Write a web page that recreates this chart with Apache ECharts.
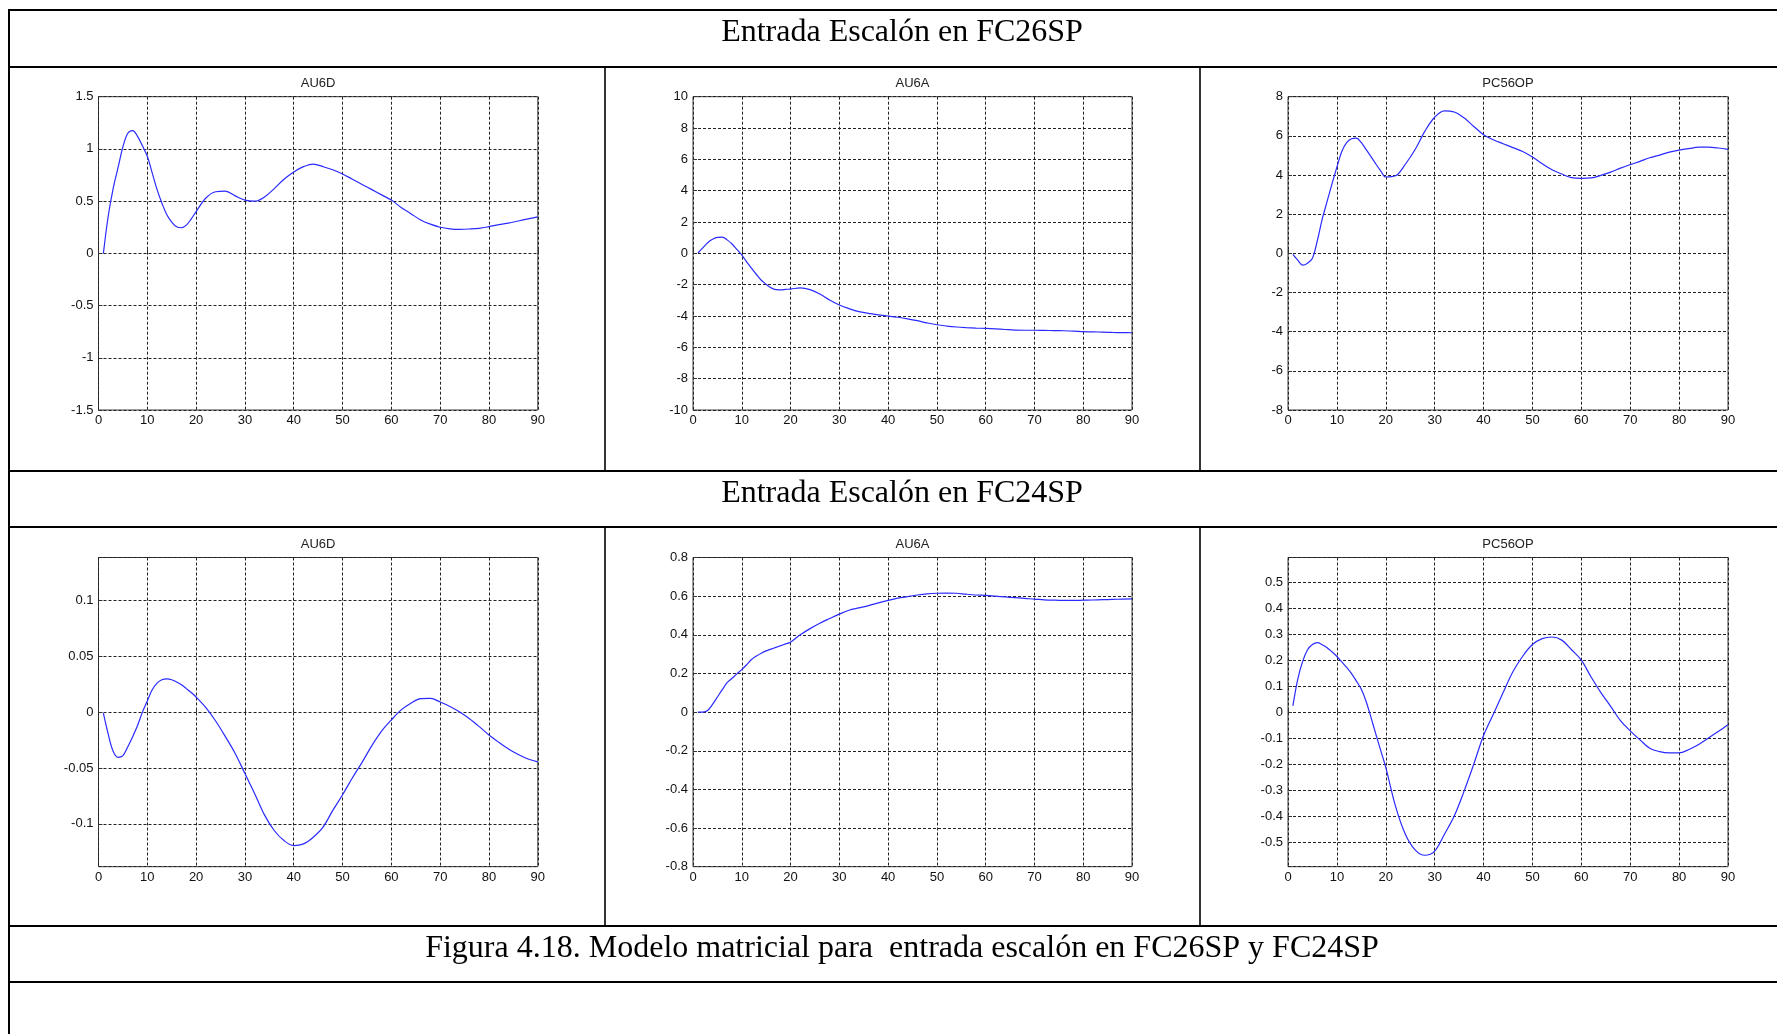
<!DOCTYPE html>
<html>
<head>
<meta charset="utf-8">
<script src="https://cdn.jsdelivr.net/npm/echarts@6/dist/echarts.min.js"></script>
<style>
html,body{margin:0;padding:0;background:#fff;}
#chart{width:1777px;height:1034px;}
</style>
</head>
<body>
<div id="chart"></div>
<script>
// ---- Data (time axis shared by all six panels) ----
const T = [1,2,3,4,5,6,7,8,9,10,11,12,13,14,15,16,17,18,19,20,
  22,24,26,28,30,32,34,36,38,40,42,44,46,48,50,52,54,56,58,60,
  62,64,66,68,70,72,74,76,78,80,82,84,86,88,90];

const xTicks = [0,10,20,30,40,50,60,70,80,90];
const rowTitles = ["Entrada Escalón en FC26SP", "Entrada Escalón en FC24SP"];
const caption = "Figura 4.18. Modelo matricial para  entrada escalón en FC26SP y FC24SP";
const panelNames = ["AU6D", "AU6A", "PC56OP"];

// Step in FC26SP
const AU6D_FC26 = [0,0.36,0.62,0.82,1.02,1.15,1.175,1.12,1.03,0.93,
  0.77,0.61,0.48,0.37,0.30,0.255,0.245,0.27,0.33,0.40,
  0.53,0.59,0.595,0.55,0.51,0.50,0.54,0.62,0.71,0.78,
  0.83,0.855,0.83,0.80,0.76,0.71,0.66,0.61,0.56,0.51,
  0.44,0.38,0.32,0.28,0.25,0.235,0.23,0.233,0.24,0.256,
  0.275,0.29,0.31,0.33,0.35];
const AU6A_FC26 = [0.02,0.35,0.68,0.9,1.02,1.03,0.86,0.6,0.25,-0.09,
  -0.55,-0.95,-1.35,-1.72,-1.98,-2.2,-2.32,-2.33,-2.3,-2.28,
  -2.2,-2.32,-2.6,-2.98,-3.3,-3.53,-3.72,-3.83,-3.93,-4.0,
  -4.08,-4.18,-4.3,-4.44,-4.56,-4.64,-4.7,-4.74,-4.77,-4.79,
  -4.82,-4.86,-4.9,-4.91,-4.91,-4.92,-4.93,-4.94,-4.96,-5.0,
  -5.01,-5.03,-5.05,-5.06,-5.07];
const PC56OP_FC26 = [-0.05,-0.35,-0.6,-0.5,-0.25,0.65,1.75,2.65,3.55,4.4,
  5.2,5.65,5.85,5.88,5.65,5.3,4.93,4.55,4.2,3.9,
  3.96,4.55,5.3,6.24,6.95,7.28,7.22,6.92,6.48,6.06,
  5.8,5.6,5.4,5.2,4.92,4.58,4.27,4.05,3.87,3.83,
  3.85,3.98,4.15,4.35,4.53,4.7,4.88,5.02,5.17,5.27,
  5.35,5.42,5.42,5.38,5.31];

// Step in FC24SP
const AU6D_FC24 = [-0.001,-0.02,-0.035,-0.0405,-0.039,-0.031,-0.022,-0.012,0.0,0.01,
  0.02,0.026,0.029,0.0297,0.029,0.027,0.0245,0.021,0.0175,0.0135,
  0.004,-0.008,-0.022,-0.037,-0.055,-0.073,-0.092,-0.106,-0.115,-0.1195,
  -0.118,-0.112,-0.103,-0.088,-0.074,-0.059,-0.045,-0.03,-0.017,-0.007,
  0.002,0.008,0.012,0.0123,0.009,0.005,0.0,-0.006,-0.013,-0.0205,
  -0.027,-0.033,-0.038,-0.042,-0.0445];
const AU6A_FC24 = [0,0,0.008,0.04,0.078,0.116,0.152,0.175,0.198,0.22,
  0.245,0.272,0.29,0.305,0.317,0.326,0.335,0.344,0.353,0.362,
  0.4,0.432,0.46,0.484,0.507,0.527,0.539,0.551,0.565,0.578,
  0.59,0.598,0.606,0.612,0.615,0.616,0.615,0.61,0.606,0.604,
  0.6,0.596,0.592,0.588,0.585,0.581,0.579,0.578,0.578,0.579,
  0.58,0.582,0.583,0.585,0.586];
const PC56OP_FC24 = [0.024,0.127,0.195,0.24,0.26,0.267,0.259,0.248,0.232,0.214,
  0.193,0.172,0.148,0.119,0.088,0.04,-0.022,-0.087,-0.15,-0.213,
  -0.363,-0.47,-0.53,-0.551,-0.535,-0.47,-0.4,-0.305,-0.2,-0.09,
  -0.008,0.075,0.155,0.215,0.26,0.283,0.289,0.277,0.24,0.2,
  0.135,0.075,0.022,-0.033,-0.072,-0.107,-0.139,-0.152,-0.157,-0.157,
  -0.144,-0.125,-0.1,-0.075,-0.049];

// y-axis ranges per panel
const yRanges = [
  {min:-1.5, max:1.5, interval:0.5},
  {min:-10, max:10, interval:2},
  {min:-8, max:8, interval:2},
  {min:-0.1384, max:0.1384, split:5},
  {min:-0.8, max:0.8, interval:0.2},
  {min:-0.595, max:0.595, split:11}
];
const seriesValues = [AU6D_FC26, AU6A_FC26, PC56OP_FC26, AU6D_FC24, AU6A_FC24, PC56OP_FC24];

// ---- Layout ----
const colLeft = [98.5, 693, 1288];
const colWidth = [439.3, 439, 440];
const rowTop = [96.7, 557.5];
const rowHeight = [313.3, 309.2];
const titleY = [83, 544];

const grids = [], xAxes = [], yAxes = [], series = [], graphics = [];
const gridLine = {show:true, lineStyle:{color:'#222', type:[3,2], width:1}};
const labelStyle = {fontFamily:'"Liberation Sans", Arial, sans-serif', fontSize:13, color:'#111'};

for (let i = 0; i < 6; i++) {
  const r = Math.floor(i / 3), c = i % 3;
  grids.push({left: colLeft[c], top: rowTop[r], width: colWidth[c], height: rowHeight[r],
    show: true, borderColor: '#3a3a3a', borderWidth: 1, backgroundColor: '#fff'});
  xAxes.push({type:'value', gridIndex:i, min:0, max:90, interval:10,
    axisLine:{show:false}, axisTick:{show:true, inside:true, length:4, lineStyle:{color:'#333'}},
    axisLabel:Object.assign({margin:4}, labelStyle), splitLine:gridLine});
  const yr = yRanges[i];
  const ya = {type:'value', gridIndex:i, min:yr.min, max:yr.max,
    axisLine:{show:false}, axisTick:{show:true, inside:true, length:4, lineStyle:{color:'#333'}},
    axisLabel:Object.assign({margin:5}, labelStyle), splitLine:gridLine};
  if (yr.interval) ya.interval = yr.interval;
  else { ya.splitNumber = yr.split; ya.axisLabel.showMinLabel = false; ya.axisLabel.showMaxLabel = false; }
  yAxes.push(ya);
  series.push({type:'line', xAxisIndex:i, yAxisIndex:i, showSymbol:false, smooth:0.35,
    data: T.map((t, k) => [t, seriesValues[i][k]]),
    lineStyle:{color:'#2a2aff', width:1.2}, emphasis:{disabled:true}});
  graphics.push({type:'text', x: colLeft[c] + colWidth[c] / 2, y: titleY[r],
    style:{text: panelNames[c], fill:'#222', font:'13px "Liberation Sans", Arial, sans-serif',
      align:'center', verticalAlign:'middle'}});
}

// ---- Table frame ----
const L = 9, R = 1800;
[10, 67, 471, 527, 926, 982].forEach(y => {
  graphics.push({type:'line', shape:{x1:L-1, y1:y, x2:R, y2:y}, style:{stroke:'#000', lineWidth:2.2}});
});
graphics.push({type:'line', shape:{x1:L, y1:9, x2:L, y2:1040}, style:{stroke:'#000', lineWidth:2}});
[605, 1200].forEach(x => {
  graphics.push({type:'line', shape:{x1:x, y1:67, x2:x, y2:471}, style:{stroke:'#000', lineWidth:1.6}});
  graphics.push({type:'line', shape:{x1:x, y1:527, x2:x, y2:926}, style:{stroke:'#000', lineWidth:1.6}});
});
const serif = '32px "Liberation Serif", "Times New Roman", serif';
[[rowTitles[0], 33], [rowTitles[1], 494], [caption, 949]].forEach(([txt, y]) => {
  graphics.push({type:'text', x:902, y:y, style:{text:txt, fill:'#000', font:serif, align:'center', verticalAlign:'middle'}});
});

const chart = echarts.init(document.getElementById('chart'));
chart.setOption({
  animation:false,
  grid:grids, xAxis:xAxes, yAxis:yAxes, series:series,
  graphic:graphics
});
</script>
</body>
</html>
